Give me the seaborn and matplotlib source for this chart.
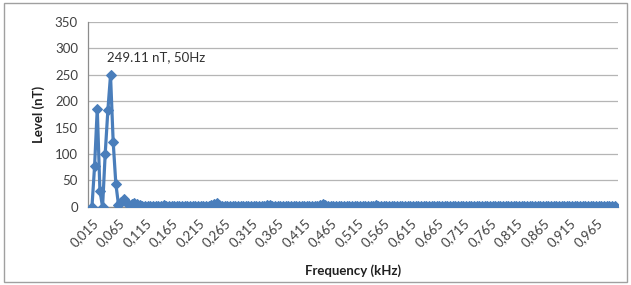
import numpy as np
import pandas as pd
import matplotlib
matplotlib.use("Agg")
import matplotlib.pyplot as plt
import seaborn as sns

# frequency bins, 5 Hz step from 15 Hz to 1 kHz
freq_khz = np.arange(15, 1001, 5) / 1000.0

level_nt = [
    0, 78, 186, 31, 0, 101, 183, 249.11, 123, 44, 4, 10, 15, 9, 4, 6, 7, 5, 3, 2,
    2, 1, 1, 2, 1, 1, 2, 3, 2, 1, 1, 1, 2, 1, 1, 1, 1, 2, 1, 1,
    1, 1, 1, 2, 2, 3, 5, 8, 4, 2, 1, 1, 1, 1, 1, 1, 1, 2, 1, 1,
    1, 1, 1, 1, 1, 2, 3, 4, 2, 1, 1, 1, 1, 1, 1, 1, 1, 2, 2, 1,
    1, 1, 1, 1, 1, 2, 4, 6, 3, 1, 1, 1, 1, 1, 1, 1, 1, 2, 1, 1,
    1, 1, 1, 1, 1, 1, 2, 3, 2, 1, 1, 1, 1, 1, 1, 1, 1, 1, 1, 1,
    1, 1, 1, 1, 1, 1, 1, 2, 1, 1, 1, 1, 1, 1, 1, 1, 1, 1, 1, 1,
    1, 1, 1, 1, 1, 1, 1, 2, 1, 1, 1, 1, 1, 1, 1, 1, 1, 1, 1, 1,
    1, 1, 1, 1, 1, 1, 1, 2, 1, 1, 1, 1, 1, 1, 1, 1, 1, 1, 1, 1,
    1, 1, 1, 1, 1, 1, 1, 1, 1, 2, 1, 1, 1, 1, 1, 1, 1, 1,
]

tick_khz = [0.015, 0.065, 0.115, 0.165, 0.215, 0.265, 0.315, 0.365, 0.415, 0.465,
            0.515, 0.565, 0.615, 0.665, 0.715, 0.765, 0.815, 0.865, 0.915, 0.965]
tick_labels = [f"{t:.3f}".replace(".", ",") for t in tick_khz]

peak_text = "249.11 nT, 50Hz"

df = pd.DataFrame({"freq": freq_khz, "level": level_nt})

sns.set_style("white")
plt.rcParams["font.family"] = ["Lato", "DejaVu Sans"]

fig = plt.figure(figsize=(6.31, 2.85), dpi=100)
ax = fig.add_axes([0.139, 0.274, 0.84, 0.649])

blue = "#4a7ebb"
sns.lineplot(data=df, x="freq", y="level", ax=ax, color=blue, linewidth=2.3,
             marker="D", markersize=5.2, markeredgecolor=blue, zorder=3)

ax.set_xlim(0.007, 1.006)
ax.set_ylim(0, 350)
ax.set_yticks(range(0, 351, 50))
ax.yaxis.grid(True, color="#b5b5b5", linewidth=0.9)
ax.set_xticks(tick_khz)
ax.set_xticklabels(tick_labels, rotation=45, ha="right", rotation_mode="anchor")
ax.tick_params(axis="both", colors="#404040", length=3, direction="out", width=0.8)
ax.tick_params(axis="y", labelsize=9.5, pad=4)
ax.tick_params(axis="x", labelsize=9.5, pad=4)
for side in ["top", "right"]:
    ax.spines[side].set_visible(False)
for side in ["left", "bottom"]:
    ax.spines[side].set_color("#8c8c8c")
    ax.spines[side].set_linewidth(0.9)

ax.set_xlabel("Frequency (kHz)", fontsize=9.5, fontweight="bold", color="#202020", labelpad=11)
ax.set_ylabel("Level (nT)", fontsize=9.5, fontweight="bold", color="#202020", labelpad=7)

ax.text(0.044, 284, peak_text, fontsize=9.5, color="#303030", ha="left", va="center")

# chart border
fig.patches.append(plt.Rectangle((0.006, 0.01), 0.988, 0.98, transform=fig.transFigure,
                                 fill=False, edgecolor="#a0a0a0", linewidth=1))

fig.savefig("out.png", dpi=100)
